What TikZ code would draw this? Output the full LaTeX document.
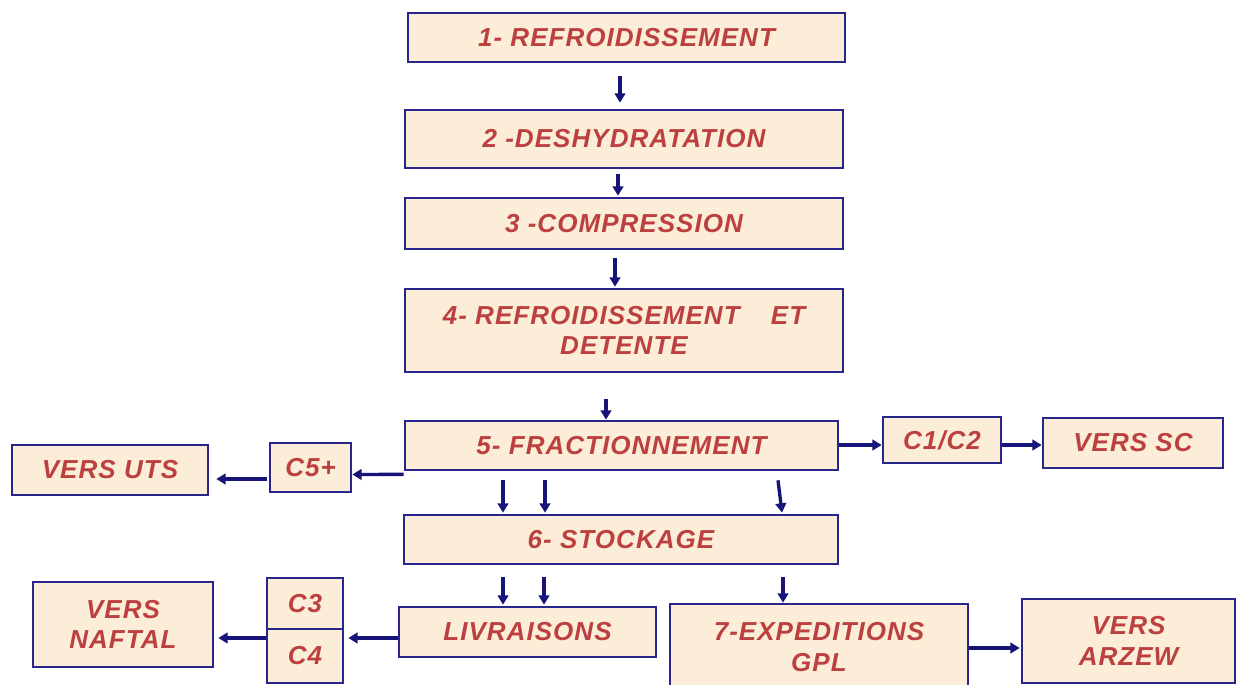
\documentclass[tikz,border=0pt]{standalone}
\usepackage{fontspec}
\setmainfont{Liberation Sans}[LetterSpace=4]
\usetikzlibrary{arrows.meta,calc}
\definecolor{boxfill}{RGB}{251,237,216}
\definecolor{boxline}{RGB}{40,38,140}
\definecolor{txt}{RGB}{188,64,64}
\definecolor{arrowc}{RGB}{22,20,120}
\tikzset{
  box/.style={draw=boxline, line width=2pt, fill=boxfill, align=center,
    inner sep=0pt, text=txt, font=\fontsize{19.5}{23}\selectfont\bfseries\itshape},
  arr/.style={draw=arrowc, line width=2.5pt,
    -{Triangle[length=7pt,width=8pt]}},
}
\begin{document}
\begin{tikzpicture}[x=0.75pt,y=-0.75pt]
\useasboundingbox (0,0) rectangle (1243,685);
\clip (0,0) rectangle (1243,685);
\fill[white] (0,0) rectangle (1243,685);

% main process chain
\node[box, minimum width=327.75pt, minimum height=36.75pt] (b1) at (626.5,37.5) {1- REFROIDISSEMENT};
\node[box, minimum width=328.5pt, minimum height=43.5pt] (b2) at (624,139) {2 -DESHYDRATATION};
\node[box, minimum width=328.5pt, minimum height=38.25pt] (b3) at (624,223.5) {3 -COMPRESSION};
\node[box, minimum width=328.5pt, minimum height=62.25pt] (b4) at (624,330.5) {4- REFROIDISSEMENT\hspace{1.2em}ET\\DETENTE};
\node[box, minimum width=324.75pt, minimum height=36.75pt] (b5) at (621.5,445.5) {5- FRACTIONNEMENT};
\node[box, minimum width=325.5pt, minimum height=36.75pt] (b6) at (621,539.5) {6- STOCKAGE};
\node[box, minimum width=192.75pt, minimum height=37.5pt] (liv) at (527.5,632) {LIVRAISONS};
\node[box, minimum width=223.5pt, minimum height=64.5pt] (b7) at (819,647) {7-EXPEDITIONS\\GPL};

% side products and destinations
\node[box, minimum width=60.75pt, minimum height=36.75pt] (c5) at (310.5,467.5) {C5+};
\node[box, minimum width=147pt, minimum height=37.5pt] (uts) at (110,470) {VERS UTS};
\node[box, minimum width=88.5pt, minimum height=34.5pt] (c12) at (942,440) {C1/C2};
\node[box, minimum width=135pt, minimum height=37.5pt] (sc) at (1133,443) {VERS SC};
\node[box, minimum width=57pt, minimum height=38.25pt] (c3) at (305,603.5) {C3};
\node[box, minimum width=57pt, minimum height=40.5pt] (c4) at (305,656) {C4};
\node[box, minimum width=135pt, minimum height=63.75pt] (naf) at (123,624.5) {VERS\\NAFTAL};
\node[box, minimum width=159.75pt, minimum height=63pt] (arz) at (1128.5,641) {VERS\\ARZEW};

% vertical flow
\draw[arr] ($(b1.south)+(-6.5,13)$) -- ($(b2.north)+(-4,-6)$);
\draw[arr] ($(b2.south)+(-6,5)$) -- ($(b3.north)+(-6,-1)$);
\draw[arr] ($(b3.south)+(-9,8)$) -- ($(b4.north)+(-9,-1)$);
\draw[arr] ($(b4.south)+(-18,26)$) -- ($(b5.north)+(-15.5,0)$);
\draw[arr] ($(b5.south)+(-118.5,9)$) -- ($(b6.north)+(-118,-1)$);
\draw[arr] ($(b5.south)+(-76.5,9)$) -- ($(b6.north)+(-76,-1)$);
\draw[arr] ($(b5.south)+(156.5,9)$) -- ($(b6.north)+(161,-1)$);
\draw[arr] ($(b6.south)+(-118,12)$) -- ($(liv.north)+(-24.5,-1)$);
\draw[arr] ($(b6.south)+(-77,12)$) -- ($(liv.north)+(16.5,-1)$);
\draw[arr] ($(b6.south)+(162,12)$) -- ($(b7.north)+(-36,0)$);

% horizontal flow
\draw[arr] ($(b5.south west)+(0,3)$) -- ($(c5.east)+(0,7)$);
\draw[arr] ($(c5.west)+(-2,11.5)$) -- ($(uts.east)+(7,9)$);
\draw[arr] ($(b5.east)+(0,-0.5)$) -- ($(c12.west)+(0,5)$);
\draw[arr] ($(c12.east)+(0,5)$) -- ($(sc.west)+(0,2)$);
\draw[arr] ($(liv.west)+(0,6)$) -- ($(c4.east)+(4,-18)$);
\draw[arr] ($(c4.west)+(0,-18)$) -- ($(naf.east)+(4,13.5)$);
\draw[arr] ($(b7.east)+(0,1)$) -- ($(arz.west)+(-1,7)$);
\end{tikzpicture}
\end{document}
